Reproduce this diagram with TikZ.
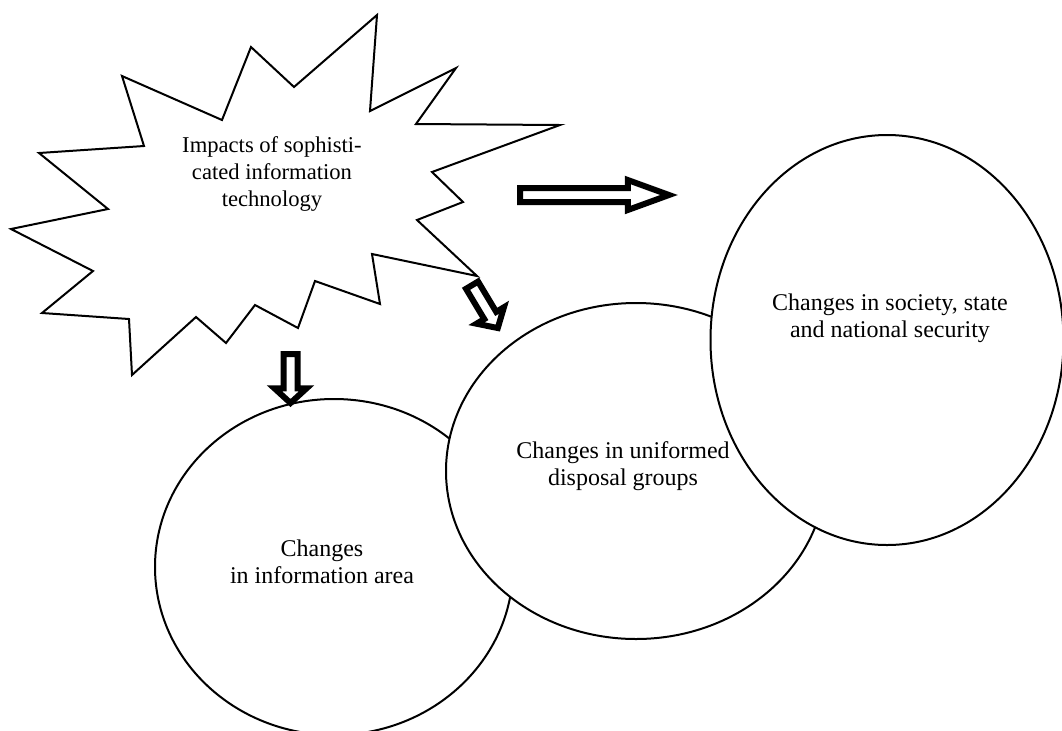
\documentclass[tikz,border=0pt]{standalone}
\usepackage{fontspec}
\setmainfont{Liberation Serif}
\usetikzlibrary{shapes.geometric,shapes.arrows}

\tikzset{
  circ/.style={draw, ellipse, line width=1pt, fill=white, inner sep=0pt},
  lbl/.style={align=center, font=\fontsize{12}{13.5}\selectfont},
  blockarrow/.style={draw, single arrow, line width=3pt, fill=white, inner sep=2pt,
    single arrow head extend=4.5pt, single arrow tip angle=95, line join=miter, anchor=tail}
}

\begin{document}
\begin{tikzpicture}[x=0.5pt, y=-0.5pt]
\useasboundingbox (0,0) rectangle (1062,730);

% starburst
\draw[line width=1pt, line join=miter] (377,15) -- (370,111) -- (456,68) -- (416,124) -- (560,125)
  -- (432,172) -- (463,202) -- (417,220) -- (477,276) -- (372,254) -- (380,304) -- (315,281)
  -- (298,328) -- (255,305) -- (226,343) -- (196,317) -- (132,375) -- (129,319) -- (42,313)
  -- (93,271) -- (11,229) -- (108,209) -- (39,153) -- (144,146) -- (122,76) -- (222,120)
  -- (251,47) -- (294,87) -- cycle;
\node[lbl, font=\fontsize{11.3}{13.5}\selectfont] (impacts) at (272,174) {Impacts of sophisti-\\cated information\\technology};

% ellipses
\node[circ, minimum width=179pt, minimum height=168pt] (area) at (334,567) {};
\node[lbl] (arealbl) at (322,562) {Changes\\in information area};

\node[circ, minimum width=190pt, minimum height=168pt] (groups) at (636,471) {};
\node[lbl] (groupslbl) at (623,466) {Changes in uniformed\\disposal groups};

\node[circ, minimum width=176.5pt, minimum height=205pt] (society) at (887,340) {};
\node[lbl] (societylbl) at (890,318) {Changes in society, state\\and national security};

% arrows
\node[blockarrow, minimum height=74.5pt, single arrow head extend=4pt, single arrow tip angle=40] (tosociety) at (517,195) {};
\node[blockarrow, minimum height=25pt, rotate=-59] (togroups) at (470.5,282.6) {};
\node[blockarrow, minimum height=24.5pt, rotate=-90] (toarea) at (290.5,351) {};
\end{tikzpicture}
\end{document}
